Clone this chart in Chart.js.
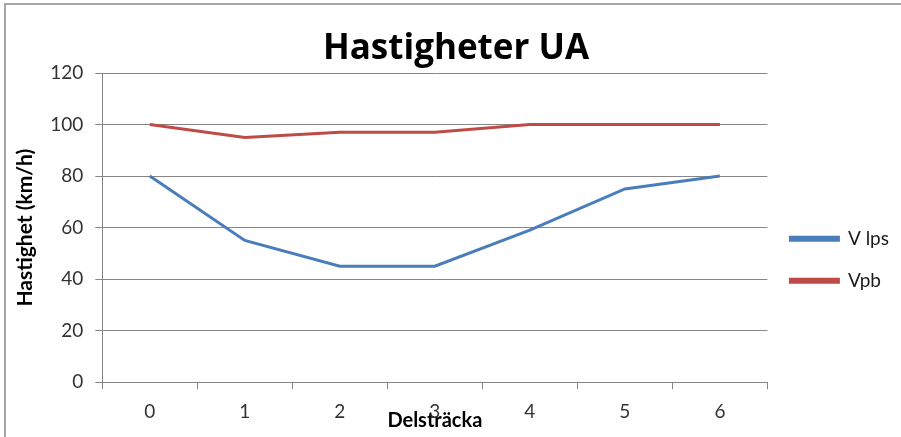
<!DOCTYPE html>
<html>
<head>
<meta charset="utf-8">
<script src="https://cdn.jsdelivr.net/npm/chart.js@4/dist/chart.umd.min.js"></script>
<style>
    body { margin: 0; background: #fff; }
    .wrap { position: relative; width: 901px; height: 437px; overflow: hidden; }
    .frame {
        position: absolute; left: 4px; top: 3px; width: 1000px; height: 1000px;
        border: 2px solid #a6a6a6; box-sizing: border-box;
    }
    canvas { position: absolute; left: 0; top: 0; }
</style>
</head>
<body>
<div class="wrap">
    <div class="frame"></div>
    <canvas id="chart" width="901" height="437"></canvas>
</div>
<script>
// Datos
const categories = ['0', '1', '2', '3', '4', '5', '6'];
const vLps = [80, 55, 45, 45, 59, 75, 80];
const vPb = [100, 95, 97, 97, 100, 100, 100];
const yTicks = [0, 20, 40, 60, 80, 100, 120];

const fontMain = 'Lato, "Open Sans", sans-serif';
const azul = '#4a7ebb';
const rojo = '#be4b48';
const gris = '#868686';

const ctx = document.getElementById('chart').getContext('2d');

new Chart(ctx, {
    type: 'line',
    data: {
        labels: categories,
        datasets: [
            {
                label: 'V lps',
                data: vLps,
                borderColor: azul,
                backgroundColor: azul,
                borderWidth: 3,
                pointRadius: 0,
                tension: 0
            },
            {
                label: 'Vpb',
                data: vPb,
                borderColor: rojo,
                backgroundColor: rojo,
                borderWidth: 3,
                pointRadius: 0,
                tension: 0
            }
        ]
    },
    options: {
        responsive: false,
        animation: false,
        layout: { padding: { left: 13, right: 2, top: 0, bottom: 4 } },
        plugins: {
            title: {
                display: true,
                text: 'Hastigheter UA',
                color: '#000',
                font: { family: '"Open Sans", Lato, sans-serif', size: 35, weight: 'bold' },
                padding: { top: 28, bottom: 3 }
            },
            legend: {
                position: 'right',
                title: { display: true, text: '', padding: 36 },
                labels: {
                    color: '#1a1a1a',
                    font: { family: fontMain, size: 19 },
                    boxWidth: 48,
                    boxHeight: 3,
                    padding: 23
                }
            },
            tooltip: { enabled: false }
        },
        scales: {
            x: {
                offset: true,
                grid: {
                    offset: true,
                    drawOnChartArea: false,
                    color: gris,
                    tickLength: 7
                },
                border: { color: gris, width: 1 },
                ticks: {
                    color: '#333333',
                    font: { family: fontMain, size: 19 },
                    padding: 11,
                    maxRotation: 0
                },
                title: {
                    display: true,
                    text: 'Delsträcka',
                    color: '#000',
                    font: { family: fontMain, size: 20, weight: 'bold' },
                    padding: { top: -25, bottom: 0 }
                }
            },
            y: {
                min: 0,
                max: 120,
                afterBuildTicks: (axis) => { axis.ticks = yTicks.map(v => ({ value: v })); },
                grid: { color: gris, tickLength: 7 },
                border: { color: gris, width: 1 },
                ticks: {
                    color: '#333333',
                    font: { family: fontMain, size: 19 },
                    padding: 12
                },
                title: {
                    display: true,
                    text: 'Hastighet (km/h)',
                    color: '#000',
                    font: { family: fontMain, size: 21, weight: 'bold' },
                    padding: { top: 0, bottom: 0 }
                }
            }
        }
    }
});
</script>
</body>
</html>
